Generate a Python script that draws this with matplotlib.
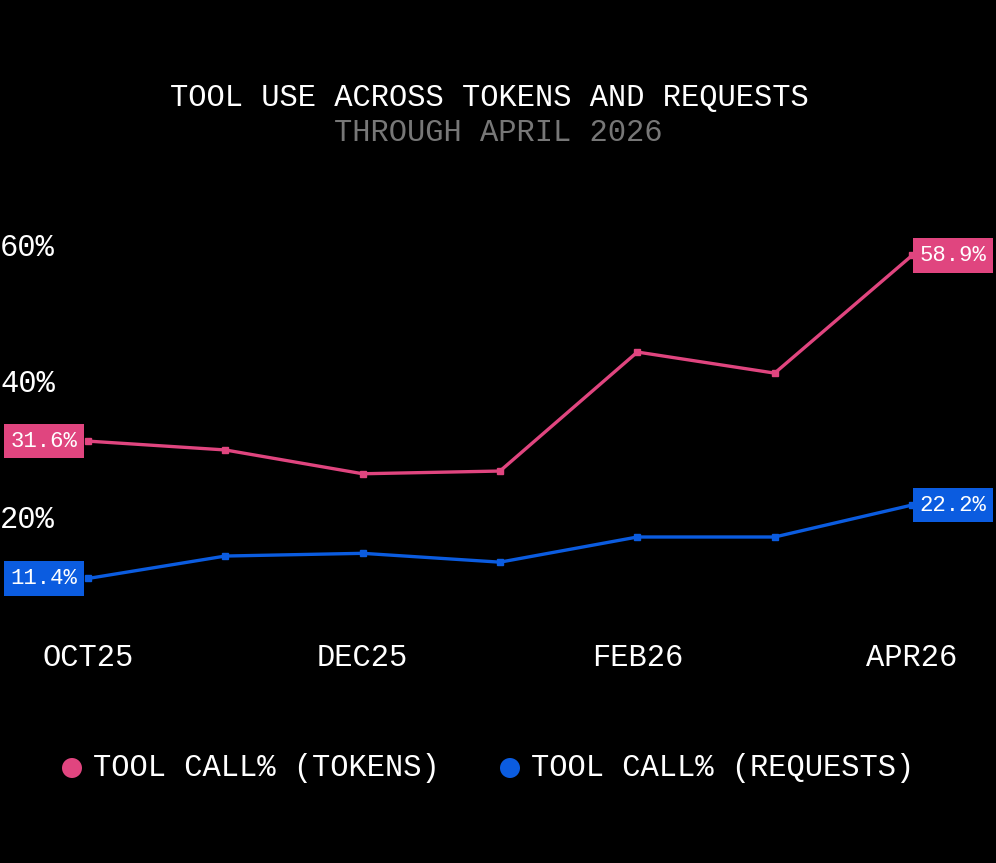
import matplotlib
matplotlib.use("Agg")
import matplotlib.pyplot as plt

months = ["OCT25", "NOV25", "DEC25", "JAN26", "FEB26", "MAR26", "APR26"]
tick_labels = ["OCT25", "DEC25", "FEB26", "APR26"]
tokens = [31.6, 30.3, 26.8, 27.2, 44.7, 41.6, 58.9]
requests = [11.4, 14.7, 15.1, 13.8, 17.5, 17.5, 22.2]
yticks = [20, 40, 60]

PINK = "#E0457F"
BLUE = "#0B5CE0"
FONT = ["Liberation Mono", "DejaVu Sans Mono"]
W, H = 996, 863

fig = plt.figure(figsize=(W/100, H/100), dpi=100, facecolor="black")
ax = fig.add_axes([0, 0, 1, 1])
ax.set_facecolor("black")
ax.axis("off")
pxu = 824/6
ax.set_xlim(-88/pxu, 6 + 84/pxu)
ax.set_ylim(-(H-656)/6.8, 656/6.8)

x = list(range(len(months)))
for vals, c in [(tokens, PINK), (requests, BLUE)]:
    ax.plot(x, vals, color=c, lw=2.4, marker="s", ms=5, zorder=3)

for v in yticks:
    ax.text(-88/pxu, v, f"{v}%", color="white", fontsize=22, family=FONT, ha="left", va="center")
for lab in tick_labels:
    ax.text(months.index(lab), -0.3, lab, color="white", fontsize=22, family=FONT, ha="center", va="center")

def vlabel(xpx, val, c):
    fig.text(xpx/W, 1-(656-val*6.8)/H, f"{val}%", color="white", fontsize=16, family=FONT,
             ha="center", va="center", zorder=5,
             bbox=dict(boxstyle="square,pad=0.3", fc=c, ec="none"))

vlabel(44, tokens[0], PINK)
vlabel(44, requests[0], BLUE)
vlabel(953, tokens[-1], PINK)
vlabel(953, requests[-1], BLUE)

fig.text(489/W, 1-98/H, "TOOL USE ACROSS TOKENS AND REQUESTS", color="white", fontsize=22,
         family=FONT, ha="center", va="center")
fig.text(498/W, 1-133/H, "THROUGH APRIL 2026", color="#777777", fontsize=22,
         family=FONT, ha="center", va="center")

for xpx, c, lab in [(72, PINK, "TOOL CALL% (TOKENS)"), (510, BLUE, "TOOL CALL% (REQUESTS)")]:
    fig.patches.append(matplotlib.patches.Ellipse((xpx/W, 1-768/H), 20/W, 20/H,
                       transform=fig.transFigure, fc=c, ec="none"))
    fig.text((xpx+21)/W, 1-768/H, lab, color="white", fontsize=22, family=FONT,
             ha="left", va="center")

fig.savefig("out.png", dpi=100, facecolor="black")
